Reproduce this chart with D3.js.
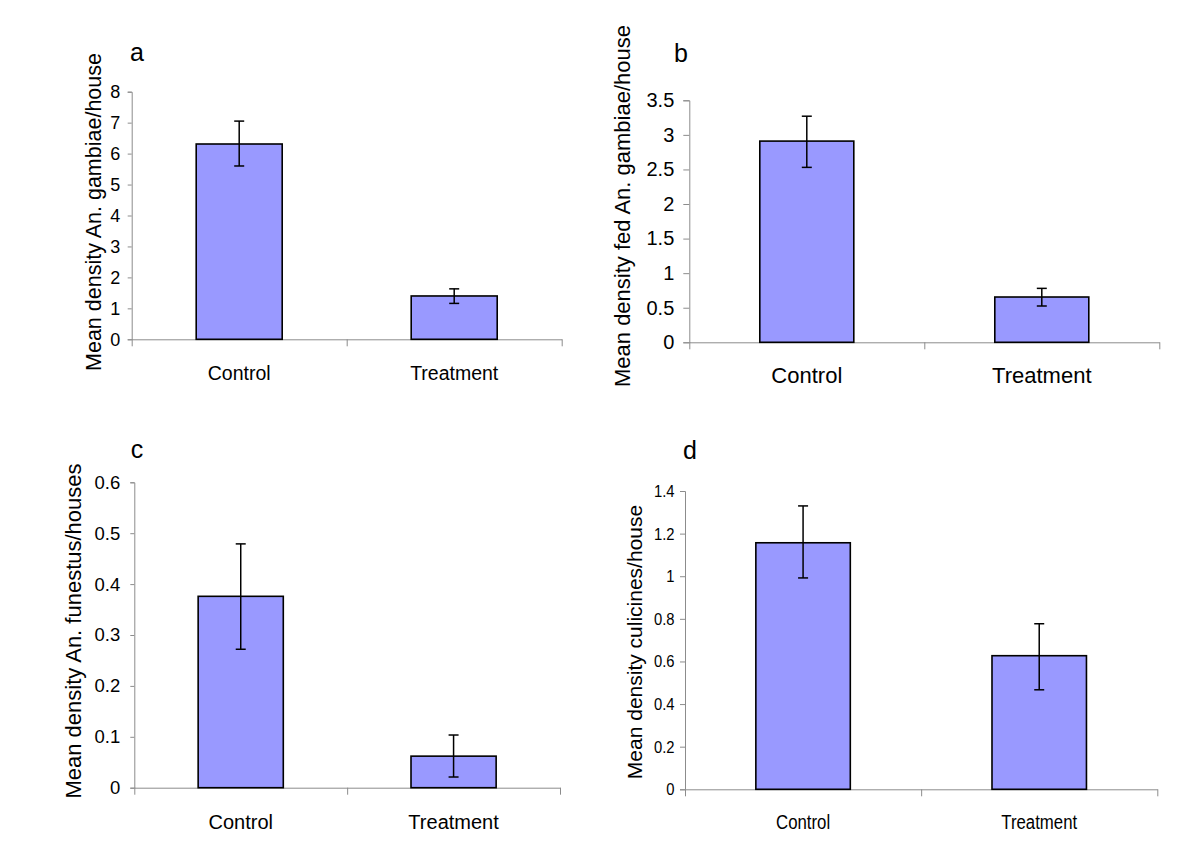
<!DOCTYPE html>
<html>
<head>
<meta charset="utf-8">
<script src="https://cdn.jsdelivr.net/npm/d3@7"></script>
<style>
  html, body { margin: 0; padding: 0; background: #fff; }
  svg { display: block; }
</style>
</head>
<body>
<svg id="chart" width="1200" height="851"></svg>
<script>
// ---------------- DATA ----------------
const categories = ["Control", "Treatment"];

const meanA  = [6.31, 1.40];
const upperA = [7.05, 1.63];
const lowerA = [5.60, 1.16];
const ticksA = [0, 1, 2, 3, 4, 5, 6, 7, 8];
const titleA = "Mean density An. gambiae/house";

const meanB  = [2.91, 0.655];
const upperB = [3.27, 0.78];
const lowerB = [2.53, 0.525];
const ticksB = [0, 0.5, 1, 1.5, 2, 2.5, 3, 3.5];
const titleB = "Mean density fed An. gambiae/house";

const meanC  = [0.376, 0.062];
const upperC = [0.479, 0.1035];
const lowerC = [0.272, 0.021];
const ticksC = [0, 0.1, 0.2, 0.3, 0.4, 0.5, 0.6];
const titleC = "Mean density An. funestus/houses";

const meanD  = [1.157, 0.627];
const upperD = [1.330, 0.777];
const lowerD = [0.992, 0.467];
const ticksD = [0, 0.2, 0.4, 0.6, 0.8, 1, 1.2, 1.4];
const titleD = "Mean density culicines/house";

const panelLetters = ["a", "b", "c", "d"];

// ---------------- LAYOUT ----------------
const REG = "'Liberation Sans', Arial, sans-serif";

const panels = [
  { letter: panelLetters[0], mean: meanA, upper: upperA, lower: lowerA, ticks: ticksA, title: titleA,
    x0: 131.7, x1: 561.7, yTop: 91.7, yBot: 339.3,
    tickSize: 4, tickPad: 7.5, tickFont: 18, tickSx: 1,
    catFont: 19.5, catSx: 1, catBase: 380,
    titleX: 93, titleY: 212, titleFont: 21.5,
    letterX: 137, letterY: 61 },
  { letter: panelLetters[1], mean: meanB, upper: upperB, lower: lowerB, ticks: ticksB, title: titleB,
    x0: 689.3, x1: 1159.3, yTop: 100.3, yBot: 342.3,
    tickSize: 6, tickPad: 9, tickFont: 20, tickSx: 1,
    catFont: 22, catSx: 1, catBase: 382.7,
    titleX: 622, titleY: 206, titleFont: 22,
    letterX: 681, letterY: 62 },
  { letter: panelLetters[2], mean: meanC, upper: upperC, lower: lowerC, ticks: ticksC, title: titleC,
    x0: 134.3, x1: 560, yTop: 482.3, yBot: 787.7,
    tickSize: 4, tickPad: 10, tickFont: 18.5, tickSx: 1,
    catFont: 20, catSx: 1, catBase: 829,
    titleX: 73, titleY: 631, titleFont: 22,
    letterX: 137, letterY: 458 },
  { letter: panelLetters[3], mean: meanD, upper: upperD, lower: lowerD, ticks: ticksD, title: titleD,
    x0: 685, x1: 1157.3, yTop: 491, yBot: 789.3,
    tickSize: 5, tickPad: 5.5, tickFont: 17, tickSx: 0.87,
    catFont: 21, catSx: 0.8, catBase: 829.3,
    titleX: 635, titleY: 642, titleFont: 21,
    letterX: 690, letterY: 459 }
];

const svg = d3.select("#chart");
const AXIS_COLOR = "#8c8c8c";
const BAR_FILL = "#9999ff";

panels.forEach(p => {
  const g = svg.append("g");
  const yMax = p.ticks[p.ticks.length - 1];
  const y = d3.scaleLinear().domain([0, yMax]).range([p.yBot, p.yTop]);
  const x = d3.scaleBand().domain(categories).range([p.x0, p.x1]).padding(0);
  const barW = x.bandwidth() * 0.40;

  // Y axis
  const yAxis = d3.axisLeft(y).tickValues(p.ticks).tickSize(p.tickSize).tickPadding(p.tickPad)
    .tickFormat(d3.format("~g"));
  const yg = g.append("g").attr("transform", `translate(${p.x0},0)`).call(yAxis);
  yg.select(".domain").attr("stroke", AXIS_COLOR);
  yg.selectAll(".tick line").attr("stroke", AXIS_COLOR);
  const off = p.tickSize + p.tickPad;
  yg.selectAll(".tick text").attr("fill", "#000")
    .attr("x", 0)
    .attr("transform", `translate(${-off},0) scale(${p.tickSx},1)`)
    .style("font-family", REG).style("font-size", p.tickFont + "px");

  // X axis (ticks at category boundaries)
  const xBound = d3.scaleLinear().domain([0, categories.length]).range([p.x0, p.x1]);
  const xAxis = d3.axisBottom(xBound).tickValues(d3.range(categories.length + 1)).tickSize(7).tickSizeOuter(0).tickFormat("");
  const xg = g.append("g").attr("transform", `translate(0,${p.yBot})`).call(xAxis);
  xg.select(".domain").attr("stroke", AXIS_COLOR);
  xg.selectAll(".tick line").attr("stroke", AXIS_COLOR);

  // Category labels
  g.selectAll("text.cat").data(categories).enter().append("text")
    .attr("class", "cat")
    .attr("transform", d => `translate(${x(d) + x.bandwidth() / 2},${p.catBase}) scale(${p.catSx},1)`)
    .attr("text-anchor", "middle")
    .style("font-family", REG).style("font-size", p.catFont + "px")
    .text(d => d);

  // Bars
  g.selectAll("rect.bar").data(categories).enter().append("rect")
    .attr("class", "bar")
    .attr("x", d => x(d) + x.bandwidth() / 2 - barW / 2)
    .attr("y", (d, i) => y(p.mean[i]))
    .attr("width", barW)
    .attr("height", (d, i) => y(0) - y(p.mean[i]))
    .attr("fill", BAR_FILL)
    .attr("stroke", "#000")
    .attr("stroke-width", 1.6);

  // Error bars
  const cap = 5;
  const eg = g.selectAll("g.err").data(categories).enter().append("g").attr("class", "err")
    .attr("stroke", "#000").attr("stroke-width", 1.5);
  eg.append("line")
    .attr("x1", d => x(d) + x.bandwidth() / 2).attr("x2", d => x(d) + x.bandwidth() / 2)
    .attr("y1", (d, i) => y(p.upper[i])).attr("y2", (d, i) => y(p.lower[i]));
  eg.append("line")
    .attr("x1", d => x(d) + x.bandwidth() / 2 - cap).attr("x2", d => x(d) + x.bandwidth() / 2 + cap)
    .attr("y1", (d, i) => y(p.upper[i])).attr("y2", (d, i) => y(p.upper[i]));
  eg.append("line")
    .attr("x1", d => x(d) + x.bandwidth() / 2 - cap).attr("x2", d => x(d) + x.bandwidth() / 2 + cap)
    .attr("y1", (d, i) => y(p.lower[i])).attr("y2", (d, i) => y(p.lower[i]));

  // Y title
  g.append("text")
    .attr("transform", `translate(${p.titleX},${p.titleY}) rotate(-90)`)
    .attr("text-anchor", "middle")
    .attr("dy", "0.35em")
    .style("font-family", REG).style("font-size", p.titleFont + "px")
    .text(p.title);

  // Panel letter
  g.append("text")
    .attr("x", p.letterX).attr("y", p.letterY)
    .attr("text-anchor", "middle")
    .style("font-family", REG).style("font-size", "25px")
    .text(p.letter);
});
</script>
</body>
</html>
